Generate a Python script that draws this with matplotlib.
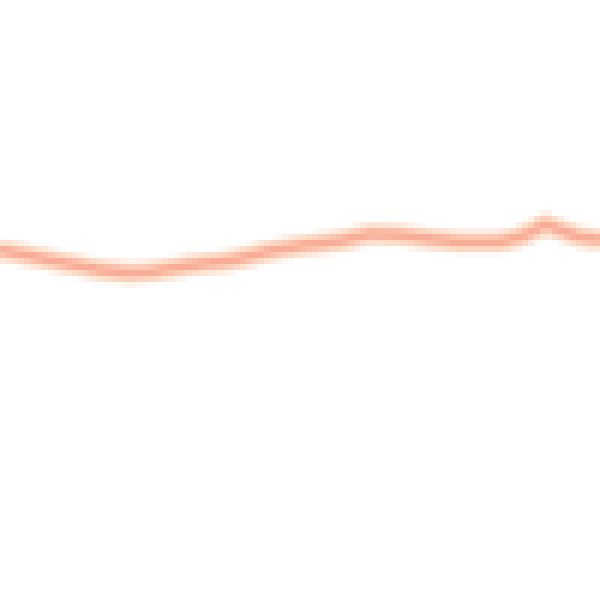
import numpy as np
import matplotlib
matplotlib.use("Agg")
import matplotlib.pyplot as plt

# line trace (x across, y down)
xs = [0, 30, 60, 100, 130, 150, 180, 200, 230, 270, 300, 340, 370, 400,
      430, 460, 500, 520, 535, 545, 560, 580, 600]
ys = [250, 256, 262, 270, 273, 272, 267, 264, 261, 251, 246, 241, 234, 235,
      239, 242, 242, 237, 230, 224, 230, 237, 240]

# draw small (100x100) then blow it up, the reference is blocky
small = plt.figure(figsize=(1, 1), dpi=100)
ax = small.add_axes([0, 0, 1, 1])
ax.plot(xs, ys, color="#fdd8c0", lw=2.6, alpha=0.9, solid_capstyle="butt")
ax.plot(xs, ys, color="#f9a58f", lw=1.1, alpha=0.85, solid_capstyle="butt")
ax.set_xlim(0, 600)
ax.set_ylim(600, 0)
ax.axis("off")
small.canvas.draw()
img = np.asarray(small.canvas.buffer_rgba()).copy()
plt.close(small)

fig = plt.figure(figsize=(6, 6), dpi=100)
big = fig.add_axes([0, 0, 1, 1])
big.imshow(img, interpolation="nearest", aspect="auto")
big.axis("off")
fig.savefig("out.png", dpi=100)
